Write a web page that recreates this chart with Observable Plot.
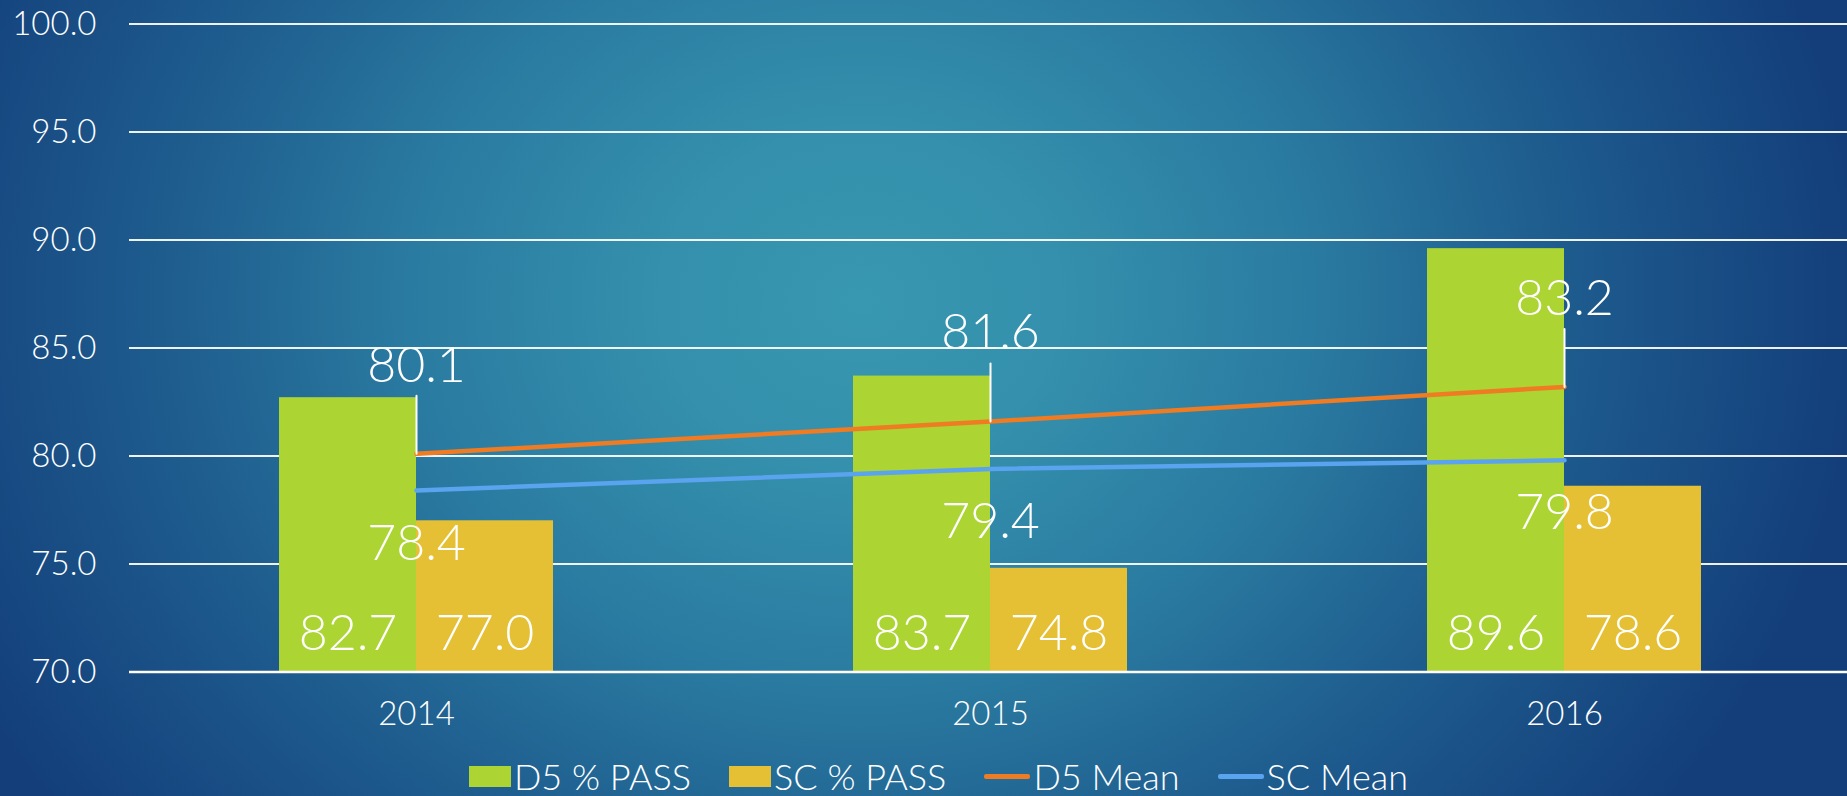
<!DOCTYPE html>
<html>
<head>
<meta charset="utf-8">
<script src="https://cdn.jsdelivr.net/npm/d3@7"></script>
<script src="https://cdn.jsdelivr.net/npm/@observablehq/plot@0.6"></script>
<style>
html, body { margin: 0; padding: 0; width: 1847px; height: 796px; overflow: hidden; }
body {
  background: radial-gradient(ellipse 1000px 850px at 860px 300px, #3897b1 0%, #3490ac 20%, #2a7ba1 45%, #1e5c8e 70%, #133e7a 100%);
  font-family: Lato, "Open Sans", sans-serif; font-weight: 300; color: #fff;
}
#chart svg { display: block; background: transparent; }
#legend { display: flex; justify-content: center; align-items: center; height: 40px; padding-top: 12px; padding-left: 30px; font-size: 36px; line-height: 1; font-weight: 300; }
#legend .item { display: flex; align-items: center; margin: 0 19px; }
#legend .sw { width: 42px; height: 21px; margin-right: 3px; }
#legend .ln { width: 46px; height: 5px; border-radius: 2px; margin-right: 3px; }
</style>
</head>
<body>
<div id="chart"></div>
<div id="legend"></div>
<script>
const years = ["2014", "2015", "2016"];
const d5Pass = [82.7, 83.7, 89.6];
const scPass = [77.0, 74.8, 78.6];
const d5Mean = [80.1, 81.6, 83.2];
const scMean = [78.4, 79.4, 79.8];
const yTicks = [70, 75, 80, 85, 90, 95, 100];
const seriesNames = ["D5 % PASS", "SC % PASS", "D5 Mean", "SC Mean"];
const seriesColors = ["#acd433", "#e5c034", "#ef7b22", "#5aa3ee"];

const rows = years.map((year, i) => ({year, d5: d5Pass[i], sc: scPass[i], d5m: d5Mean[i], scm: scMean[i]}));

const W = 1847, H = 744, mL = 129, mR = -4, mT = 23.5, mB = 72.5;
const bw = (W - mL - mR) / years.length;
const barW = 137;
const fmt = v => v.toFixed(1);
const lbl = 50;

let leader;
try {
  leader = Plot.vector(rows, {x: "year", y: "d5m", length: 58, rotate: 0, anchor: "start",
    shape: {draw(ctx, l) { ctx.moveTo(0, 0); ctx.lineTo(0, -l); }},
    stroke: "white", strokeWidth: 2});
} catch (e) {
  leader = Plot.ruleX(rows, {x: "year", y1: "d5m", y2: d => d.d5m + 2.7, stroke: "white", strokeWidth: 2});
}

const chart = Plot.plot({
  width: W, height: H,
  marginLeft: mL, marginRight: mR, marginTop: mT, marginBottom: mB,
  style: {background: "transparent", color: "white", fontFamily: "Lato, 'Open Sans', sans-serif", fontWeight: 300, fontSize: "32px", overflow: "visible"},
  x: {domain: years, padding: 0, label: null},
  y: {domain: [70, 100], label: null},
  marks: [
    Plot.gridY(yTicks, {stroke: "white", strokeOpacity: 0.92, strokeWidth: 2}),
    Plot.axisY({ticks: yTicks, tickFormat: fmt, tickSize: 0, tickPadding: 33, label: null, fill: "white", fontSize: 33}),
    Plot.axisX({tickSize: 0, tickPadding: 30, label: null, fill: "white", fontSize: 33}),
    Plot.barY(rows, {x: "year", y1: 70, y2: "d5", fill: seriesColors[0], insetLeft: bw / 2 - barW, insetRight: bw / 2}),
    Plot.barY(rows, {x: "year", y1: 70, y2: "sc", fill: seriesColors[1], insetLeft: bw / 2, insetRight: bw / 2 - barW}),
    Plot.ruleY([70], {stroke: "white", strokeWidth: 2.5}),
    Plot.line(rows, {x: "year", y: "d5m", stroke: seriesColors[2], strokeWidth: 4.5}),
    Plot.line(rows, {x: "year", y: "scm", stroke: seriesColors[3], strokeWidth: 4.5}),
    leader,
    Plot.text(rows, {x: "year", text: d => fmt(d.d5), frameAnchor: "bottom", lineAnchor: "bottom", dx: -barW / 2, dy: -22, fill: "white", fontSize: lbl}),
    Plot.text(rows, {x: "year", text: d => fmt(d.sc), frameAnchor: "bottom", lineAnchor: "bottom", dx: barW / 2, dy: -22, fill: "white", fontSize: lbl}),
    Plot.text(rows, {x: "year", y: "d5m", text: d => fmt(d.d5m), lineAnchor: "bottom", dy: -72, fill: "white", fontSize: lbl}),
    Plot.text(rows, {x: "year", y: "scm", text: d => fmt(d.scm), lineAnchor: "bottom", dy: 69, fill: "white", fontSize: lbl})
  ]
});
document.getElementById("chart").appendChild(chart);

const legend = document.getElementById("legend");
seriesNames.forEach((name, i) => {
  const item = document.createElement("div");
  item.className = "item";
  const sw = document.createElement("div");
  sw.className = i < 2 ? "sw" : "ln";
  sw.style.background = seriesColors[i];
  const t = document.createElement("span");
  t.textContent = name;
  item.appendChild(sw);
  item.appendChild(t);
  legend.appendChild(item);
});
</script>
</body>
</html>
